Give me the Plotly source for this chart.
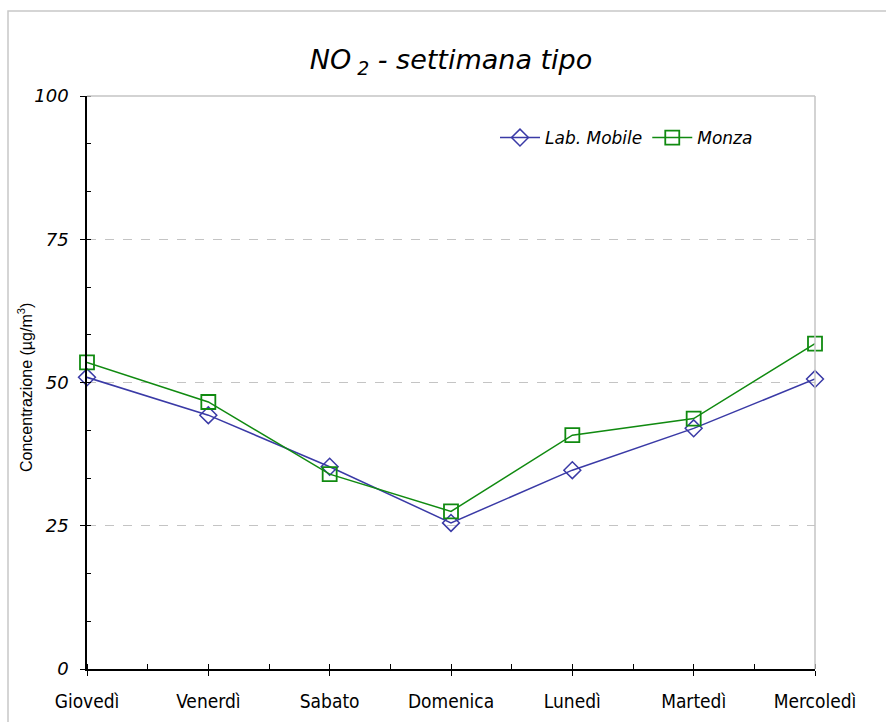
import plotly.graph_objects as go

# Weekly profile of NO2 concentration (µg/m³)
days = ["Giovedì", "Venerdì", "Sabato", "Domenica", "Lunedì", "Martedì", "Mercoledì"]
lab_mobile = [50.9, 44.3, 35.3, 25.5, 34.7, 42.0, 50.6]
monza = [53.5, 46.6, 34.0, 27.5, 40.8, 43.7, 56.8]
y_ticks = [0, 25, 50, 75, 100]

BLUE = "#3a3aa6"
GREEN = "#108a10"
GRID = "#c4c4c4"

pos = list(range(len(days)))

fig = go.Figure()
fig.add_trace(go.Scatter(
    x=pos, y=lab_mobile, name="Lab. Mobile", mode="lines+markers",
    line=dict(color=BLUE, width=1.5), cliponaxis=False,
    marker=dict(symbol="diamond-open", size=13, color=BLUE, line=dict(width=1.5)),
))
fig.add_trace(go.Scatter(
    x=pos, y=monza, name="Monza", mode="lines+markers",
    line=dict(color=GREEN, width=1.5), cliponaxis=False,
    marker=dict(symbol="square-open", size=14, color=GREEN, line=dict(width=1.8)),
))

L, R, T, B = 87, 71, 96, 53
W, H = 886, 722
pw, ph = W - L - R, H - T - B

fig.update_layout(
    width=W, height=H,
    margin=dict(l=L, r=R, t=T, b=B, autoexpand=False),
    paper_bgcolor="white", plot_bgcolor="white",
    title=dict(
        text="<i>NO<sub> 2</sub> - settimana tipo</i>",
        x=(L + pw / 2) / W, xanchor="center",
        y=1 - 60 / H, yanchor="middle",
        font=dict(family="DejaVu Sans", size=27, color="black"),
    ),
    legend=dict(
        orientation="h", x=(495 - L) / pw, xanchor="left",
        y=(H - B - 138) / ph, yanchor="middle",
        font=dict(family="DejaVu Sans", size=17, color="black", style="italic"),
        bgcolor="rgba(0,0,0,0)", itemwidth=40,
    ),
    showlegend=True,
)

fig.update_xaxes(
    range=[0, len(days) - 1], automargin=False,
    tickvals=pos, ticktext=days,
    showline=True, linecolor="black", linewidth=1.5,
    ticks="outside", ticklen=5, tickcolor="black", tickwidth=1,
    minor=dict(dtick=0.5, tick0=0, ticks="inside", ticklen=5, tickcolor="black", tickwidth=1),
    showgrid=False, zeroline=False,
    tickfont=dict(family="Liberation Sans Narrow, DejaVu Sans Condensed, Arial Narrow, sans-serif",
                  size=19, color="black"),
    ticklabelstandoff=9,
)
fig.update_yaxes(
    range=[0, 100], automargin=False,
    tickvals=y_ticks, ticktext=[str(v) for v in y_ticks],
    showline=True, linecolor="black", linewidth=1.5,
    ticks="outside", ticklen=5, tickcolor="black", tickwidth=1,
    minor=dict(dtick=25 / 3, tick0=0, ticks="inside", ticklen=4, tickcolor="black", tickwidth=1),
    showgrid=True, gridcolor=GRID, griddash="dash", gridwidth=1,
    zeroline=False,
    tickfont=dict(family="DejaVu Sans", size=18, color="black", style="italic"),
    ticklabelstandoff=8,
)

# Plot-area border (top and right) and outer chart frame
fig.add_shape(type="line", xref="paper", yref="paper", x0=0, x1=1, y0=1, y1=1,
              line=dict(color=GRID, width=1.5))
fig.add_shape(type="line", xref="paper", yref="paper", x0=1, x1=1, y0=0, y1=1,
              line=dict(color=GRID, width=1.5))
fig.add_shape(type="rect", xref="paper", yref="paper",
              x0=(8 - L) / pw, x1=(W + 10 - L) / pw,
              y0=(H - B - (H + 10)) / ph, y1=(H - B - 11) / ph,
              line=dict(color="#c8c8c8", width=1.5), layer="below")

# Rotated axis title
fig.add_annotation(
    text="Concentrazione (µg/m<sup>3</sup>)", textangle=-90,
    xref="paper", yref="paper", x=(25 - L) / pw, y=(H - B - 388) / ph,
    xanchor="center", yanchor="middle", showarrow=False,
    font=dict(family="Liberation Sans, Arial, sans-serif", size=16, color="black"),
)

fig.write_html("out.html")
